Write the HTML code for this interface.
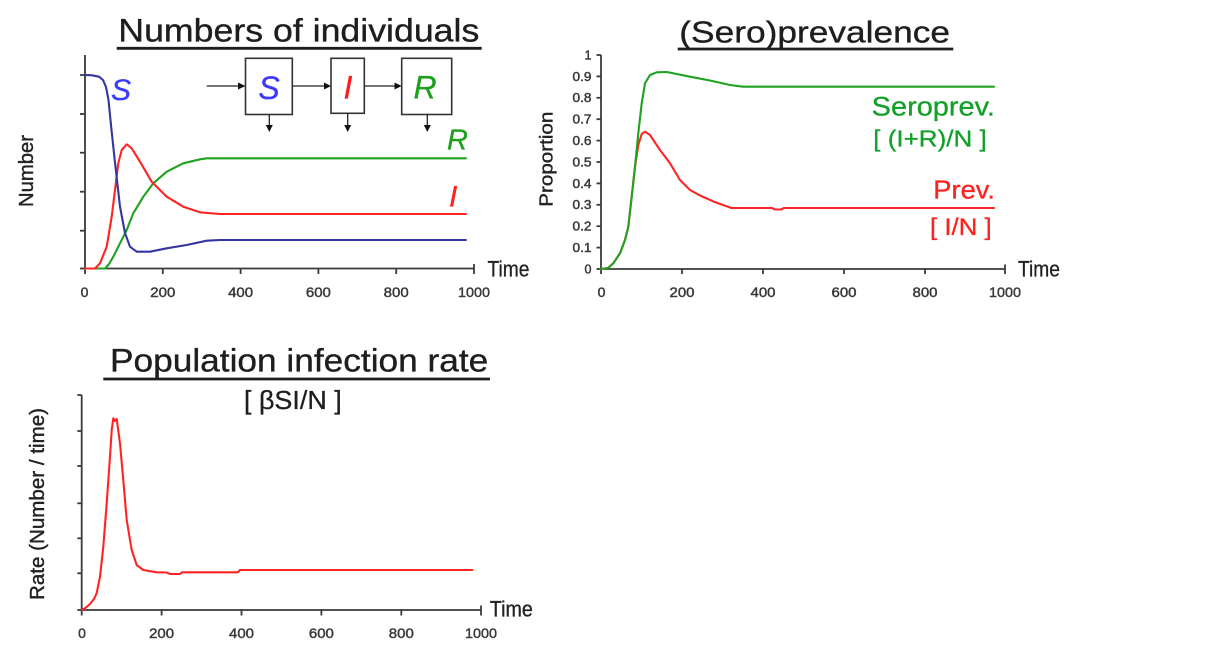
<!DOCTYPE html>
<html>
<head>
<meta charset="utf-8">
<style>
html,body{margin:0;padding:0;background:#fff;}
svg{display:block;}
text{font-family:"Liberation Sans",Arial,sans-serif;}
</style>
</head>
<body>
<svg width="1224" height="664" viewBox="0 0 1224 664" xmlns="http://www.w3.org/2000/svg">
<rect width="1224" height="664" fill="#fff"/>

<!-- ============ CHART 1 ============ -->
<text x="118.3" y="41.7" font-size="32" fill="#1e1e1e" stroke="#1e1e1e" stroke-width="0.35" textLength="361" lengthAdjust="spacingAndGlyphs">Numbers of individuals</text>
<line x1="116.7" y1="48.3" x2="481.7" y2="48.3" stroke="#1e1e1e" stroke-width="2.8"/>

<g stroke="#3a3a3a" stroke-width="1.8" fill="none">
  <line x1="85" y1="55" x2="85" y2="268.5"/>
  <line x1="85" y1="268.5" x2="474" y2="268.5"/>
  <line x1="80" y1="75" x2="85" y2="75"/>
  <line x1="80" y1="114" x2="85" y2="114"/>
  <line x1="80" y1="152.7" x2="85" y2="152.7"/>
  <line x1="80" y1="191.7" x2="85" y2="191.7"/>
  <line x1="80" y1="230.7" x2="85" y2="230.7"/>
  <line x1="80" y1="268.5" x2="85" y2="268.5"/>
  <line x1="85" y1="268.5" x2="85" y2="274"/>
  <line x1="162.8" y1="268.5" x2="162.8" y2="274"/>
  <line x1="240.6" y1="268.5" x2="240.6" y2="274"/>
  <line x1="318.4" y1="268.5" x2="318.4" y2="274"/>
  <line x1="396.2" y1="268.5" x2="396.2" y2="274"/>
  <line x1="474" y1="264" x2="474" y2="274"/>
</g>
<g font-size="14" fill="#333" stroke="#444" stroke-width="0.5" text-anchor="middle">
  <text x="84.5" y="297">0</text>
  <text x="162.8" y="297" textLength="25" lengthAdjust="spacingAndGlyphs">200</text>
  <text x="240.6" y="297" textLength="25" lengthAdjust="spacingAndGlyphs">400</text>
  <text x="318.4" y="297" textLength="25" lengthAdjust="spacingAndGlyphs">600</text>
  <text x="396.2" y="297" textLength="25" lengthAdjust="spacingAndGlyphs">800</text>
  <text x="474" y="297" textLength="32" lengthAdjust="spacingAndGlyphs">1000</text>
</g>
<text x="487.5" y="276.7" font-size="22" fill="#222" stroke="#222" stroke-width="0.3" textLength="42" lengthAdjust="spacingAndGlyphs">Time</text>
<text transform="translate(33,171) rotate(-90)" font-size="20" fill="#222" stroke="#222" stroke-width="0.4" text-anchor="middle" textLength="72" lengthAdjust="spacingAndGlyphs">Number</text>

<!-- curves chart 1 -->
<g fill="none" stroke-width="2.1" stroke-linejoin="round" stroke-linecap="round">
  <polyline stroke="#1fa21f" points="85,268.5 105,268.5 109,264 113.3,256.7 120,243.3 126.7,230 133.3,213.3 143.3,196.7 153.3,183.3 166.7,171.7 183.3,163.3 200,159.3 207,158.3 466,158.3"/>
  <polyline stroke="#ff2424" points="85,268.5 95,268.5 100,263.3 106.7,246.7 111.7,216.7 115,190 118.3,163.3 121.7,150 126.7,144.3 131.7,148.3 140,161.7 151.7,181.7 166.7,196.7 183.3,206.7 200,212.3 220,214 466,214"/>
  <polyline stroke="#3535a0" points="85,75 92,75.3 99,76.7 103,80 106,87 108.5,100 111.5,130 114.5,158 117.3,183 120,206.7 125,233 130,246.7 136.7,251.7 150,251.7 166.7,248.3 186.7,245 206.7,240.7 220,240 466,240"/>
</g>

<!-- curve labels -->
<text x="111" y="100" font-size="30" font-style="italic" fill="#3a3aff" stroke="#3a3aff" stroke-width="0.3">S</text>
<text x="447" y="149.3" font-size="29" font-style="italic" fill="#1ea01e" stroke="#1ea01e" stroke-width="0.3">R</text>
<text x="449" y="206.7" font-size="30" font-style="italic" fill="#ff2020" stroke="#ff2020" stroke-width="0.3">I</text>

<!-- SIR diagram -->
<g stroke="#333" stroke-width="1.6" fill="#fff">
  <rect x="245.5" y="58.3" width="46.8" height="56.2"/>
  <rect x="331" y="58.3" width="33.3" height="55"/>
  <rect x="401.7" y="58.3" width="50" height="56.2"/>
</g>
<g stroke="#222" stroke-width="1.3">
  <line x1="206.7" y1="86" x2="239" y2="86"/>
  <line x1="292.3" y1="86" x2="325" y2="86"/>
  <line x1="364.3" y1="86" x2="395.5" y2="86"/>
  <line x1="269.3" y1="114.5" x2="269.3" y2="126"/>
  <line x1="347.7" y1="113.3" x2="347.7" y2="126"/>
  <line x1="427.3" y1="114.5" x2="427.3" y2="126"/>
</g>
<g fill="#111">
  <polygon points="238,82.5 245.5,86 238,89.5"/>
  <polygon points="324,82.5 331,86 324,89.5"/>
  <polygon points="394.5,82.5 401.7,86 394.5,89.5"/>
  <polygon points="265.8,125 272.8,125 269.3,132"/>
  <polygon points="344.2,125 351.2,125 347.7,132"/>
  <polygon points="423.8,125 430.8,125 427.3,132"/>
</g>
<text x="269" y="99" font-size="32" font-style="italic" fill="#3a3aff" stroke="#3a3aff" stroke-width="0.3" text-anchor="middle">S</text>
<text x="348" y="98.3" font-size="32" font-style="italic" fill="#ff1a1a" stroke="#ff1a1a" stroke-width="0.3" text-anchor="middle">I</text>
<text x="425" y="98.3" font-size="32" font-style="italic" fill="#1ea01e" stroke="#1ea01e" stroke-width="0.3" text-anchor="middle">R</text>

<!-- ============ CHART 2 ============ -->
<text x="679.3" y="42.3" font-size="31" fill="#1e1e1e" stroke="#1e1e1e" stroke-width="0.35" textLength="270.7" lengthAdjust="spacingAndGlyphs">(Sero)prevalence</text>
<line x1="677.7" y1="49" x2="953.3" y2="49" stroke="#1e1e1e" stroke-width="2.8"/>

<g stroke="#3a3a3a" stroke-width="1.8" fill="none">
  <line x1="601" y1="55" x2="601" y2="269"/>
  <line x1="601" y1="269" x2="1005" y2="269"/>
  <line x1="596.5" y1="55" x2="601" y2="55"/>
  <line x1="596.5" y1="76.4" x2="601" y2="76.4"/>
  <line x1="596.5" y1="97.8" x2="601" y2="97.8"/>
  <line x1="596.5" y1="119.2" x2="601" y2="119.2"/>
  <line x1="596.5" y1="140.6" x2="601" y2="140.6"/>
  <line x1="596.5" y1="162" x2="601" y2="162"/>
  <line x1="596.5" y1="183.4" x2="601" y2="183.4"/>
  <line x1="596.5" y1="204.8" x2="601" y2="204.8"/>
  <line x1="596.5" y1="226.2" x2="601" y2="226.2"/>
  <line x1="596.5" y1="247.6" x2="601" y2="247.6"/>
  <line x1="596.5" y1="269" x2="601" y2="269"/>
  <line x1="601" y1="269" x2="601" y2="274"/>
  <line x1="682" y1="269" x2="682" y2="274"/>
  <line x1="763" y1="269" x2="763" y2="274"/>
  <line x1="844" y1="269" x2="844" y2="274"/>
  <line x1="925" y1="269" x2="925" y2="274"/>
  <line x1="1005" y1="264.5" x2="1005" y2="274"/>
</g>
<g font-size="12.5" fill="#333" stroke="#444" stroke-width="0.5" text-anchor="end">
  <text x="591.5" y="59.4">1</text>
  <text x="591.5" y="80.8" textLength="19" lengthAdjust="spacingAndGlyphs">0.9</text>
  <text x="591.5" y="102.2" textLength="19" lengthAdjust="spacingAndGlyphs">0.8</text>
  <text x="591.5" y="123.6" textLength="19" lengthAdjust="spacingAndGlyphs">0.7</text>
  <text x="591.5" y="145" textLength="19" lengthAdjust="spacingAndGlyphs">0.6</text>
  <text x="591.5" y="166.4" textLength="19" lengthAdjust="spacingAndGlyphs">0.5</text>
  <text x="591.5" y="187.8" textLength="19" lengthAdjust="spacingAndGlyphs">0.4</text>
  <text x="591.5" y="209.2" textLength="19" lengthAdjust="spacingAndGlyphs">0.3</text>
  <text x="591.5" y="230.6" textLength="19" lengthAdjust="spacingAndGlyphs">0.2</text>
  <text x="591.5" y="252" textLength="19" lengthAdjust="spacingAndGlyphs">0.1</text>
  <text x="591.5" y="273.4">0</text>
</g>
<g font-size="14" fill="#333" stroke="#444" stroke-width="0.5" text-anchor="middle">
  <text x="601.5" y="297">0</text>
  <text x="682" y="297" textLength="25" lengthAdjust="spacingAndGlyphs">200</text>
  <text x="763" y="297" textLength="25" lengthAdjust="spacingAndGlyphs">400</text>
  <text x="844" y="297" textLength="25" lengthAdjust="spacingAndGlyphs">600</text>
  <text x="925" y="297" textLength="25" lengthAdjust="spacingAndGlyphs">800</text>
  <text x="1005" y="297" textLength="32" lengthAdjust="spacingAndGlyphs">1000</text>
</g>
<text x="1018" y="276.7" font-size="22" fill="#222" stroke="#222" stroke-width="0.3" textLength="42" lengthAdjust="spacingAndGlyphs">Time</text>
<text transform="translate(552.5,159.2) rotate(-90)" font-size="18.6" fill="#222" stroke="#222" stroke-width="0.4" text-anchor="middle" textLength="95" lengthAdjust="spacingAndGlyphs">Proportion</text>

<g fill="none" stroke-width="2.1" stroke-linejoin="round" stroke-linecap="round">
  <polyline stroke="#ff2424" points="601,269 608,268 613.3,263.3 620,253.3 625,240 628.3,226.7 631.7,196.7 635,166.7 638.3,145 641.7,134 645,131.7 650,135 660,150 670,163.3 680,180 690,190 700,195.5 713.9,201.7 731.6,208 772,208 775,209.5 781,209.5 784,208 994,208"/>
  <polyline stroke="#1fa21f" points="601,269 608,268 613.3,263.3 620,253.3 625,240 628.3,226.7 631.7,196.7 635,166.7 638.3,133.3 641.7,103.3 645,83.3 650,75 656.7,72.3 666.7,72 690,76.7 710,80.5 730,85 743,86.7 994,86.7"/>
</g>

<text x="871.7" y="115.7" font-size="26.5" fill="#12a02a" stroke="#12a02a" stroke-width="0.3" textLength="123.3" lengthAdjust="spacingAndGlyphs">Seroprev.</text>
<text x="873.3" y="146.7" font-size="23" fill="#12a02a" stroke="#12a02a" stroke-width="0.3" textLength="113.4" lengthAdjust="spacingAndGlyphs">[ (I+R)/N ]</text>
<text x="933.3" y="198.3" font-size="26" fill="#ff2020" stroke="#ff2020" stroke-width="0.3" textLength="61.7" lengthAdjust="spacingAndGlyphs">Prev.</text>
<text x="930" y="235" font-size="24" fill="#ff2020" stroke="#ff2020" stroke-width="0.3" textLength="61.7" lengthAdjust="spacingAndGlyphs">[ I/N ]</text>

<!-- ============ CHART 3 ============ -->
<text x="110" y="371.7" font-size="32.5" fill="#1e1e1e" stroke="#1e1e1e" stroke-width="0.35" textLength="378.3" lengthAdjust="spacingAndGlyphs">Population infection rate</text>
<line x1="103.3" y1="379" x2="490" y2="379" stroke="#1e1e1e" stroke-width="2.8"/>
<text x="244" y="409" font-size="26" fill="#1e1e1e" stroke="#1e1e1e" stroke-width="0.3" textLength="97.7" lengthAdjust="spacingAndGlyphs">[ βSI/N ]</text>

<g stroke="#3a3a3a" stroke-width="1.8" fill="none">
  <line x1="81.7" y1="395" x2="81.7" y2="610"/>
  <line x1="81.7" y1="610" x2="481" y2="610"/>
  <line x1="77.3" y1="395" x2="81.7" y2="395"/>
  <line x1="77.3" y1="431" x2="81.7" y2="431"/>
  <line x1="77.3" y1="466" x2="81.7" y2="466"/>
  <line x1="77.3" y1="503.3" x2="81.7" y2="503.3"/>
  <line x1="77.3" y1="538.3" x2="81.7" y2="538.3"/>
  <line x1="77.3" y1="573.3" x2="81.7" y2="573.3"/>
  <line x1="77.3" y1="610" x2="81.7" y2="610"/>
  <line x1="81.7" y1="610" x2="81.7" y2="615.5"/>
  <line x1="161.6" y1="610" x2="161.6" y2="615.5"/>
  <line x1="241.5" y1="610" x2="241.5" y2="615.5"/>
  <line x1="321.4" y1="610" x2="321.4" y2="615.5"/>
  <line x1="401.3" y1="610" x2="401.3" y2="615.5"/>
  <line x1="481" y1="605.5" x2="481" y2="615.5"/>
</g>
<g font-size="14" fill="#333" stroke="#444" stroke-width="0.5" text-anchor="middle">
  <text x="82" y="638">0</text>
  <text x="161.6" y="638" textLength="25" lengthAdjust="spacingAndGlyphs">200</text>
  <text x="241.5" y="638" textLength="25" lengthAdjust="spacingAndGlyphs">400</text>
  <text x="321.4" y="638" textLength="25" lengthAdjust="spacingAndGlyphs">600</text>
  <text x="401.3" y="638" textLength="25" lengthAdjust="spacingAndGlyphs">800</text>
  <text x="481" y="638" textLength="32" lengthAdjust="spacingAndGlyphs">1000</text>
</g>
<text x="489.8" y="616.7" font-size="22" fill="#222" stroke="#222" stroke-width="0.3" textLength="43" lengthAdjust="spacingAndGlyphs">Time</text>
<text transform="translate(44,504) rotate(-90)" font-size="20" fill="#222" stroke="#222" stroke-width="0.4" text-anchor="middle" textLength="192" lengthAdjust="spacingAndGlyphs">Rate  (Number / time)</text>

<polyline fill="none" stroke="#ff2424" stroke-width="2.1" stroke-linejoin="round" stroke-linecap="round" points="82,610 86,607.5 90,604 94,599 96.7,593 100,576.7 103.3,546.7 106.7,503.3 110,456.7 111.7,430 113.3,418.3 115,421 116.7,419 120,443.3 123.3,480 126.7,520 131.7,550 136.7,565 143.3,570 156.7,572.3 166.7,572.5 170,574 180,574 182,572.3 238,572.3 240,570 472.5,570"/>

</svg>
</body>
</html>
